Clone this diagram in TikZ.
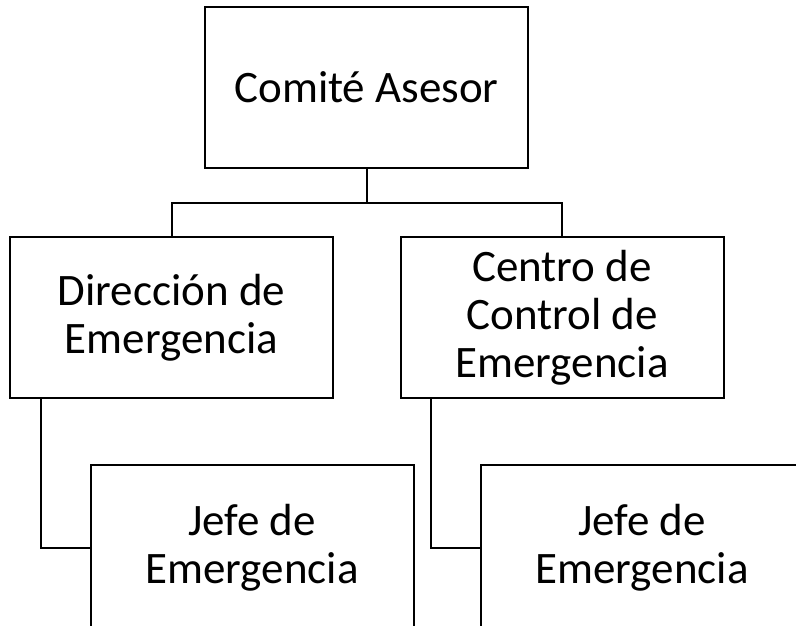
\documentclass[tikz,border=0pt]{standalone}
\usepackage{fontspec}
\setmainfont{Carlito}
\usepackage{tikz}

\begin{document}
\begin{tikzpicture}[x=1pt,y=-1pt,font=\fontsize{45}{48}\selectfont,
box/.style={draw,line width=2pt,align=center,minimum width=323pt,minimum height=161pt,inner sep=0pt},
link/.style={line width=2pt}]
\clip (0,0) rectangle (796,626);
\node[box] (comite) at (366.5,87.5) {Comité Asesor};
\node[box] (direccion) at (171.5,317.5) {Dirección de\\Emergencia};
\node[box] (centro) at (562,317.5) {Centro de\\Control de\\Emergencia};
\node[box,minimum height=166pt] (jefeA) at (252,548) {Jefe de\\Emergencia};
\node[box,minimum height=166pt] (jefeB) at (642,548) {Jefe de\\Emergencia};
\coordinate (split) at (366.5,203);
\draw[link] (comite.south)--(split); \draw[link] (direccion.north) |- (split) -| (centro.north);
\draw[link] ([xshift=32pt]direccion.south west) |- (jefeA.west); \draw[link] ([xshift=31pt]centro.south west) |- (jefeB.west);
\end{tikzpicture}
\end{document}
